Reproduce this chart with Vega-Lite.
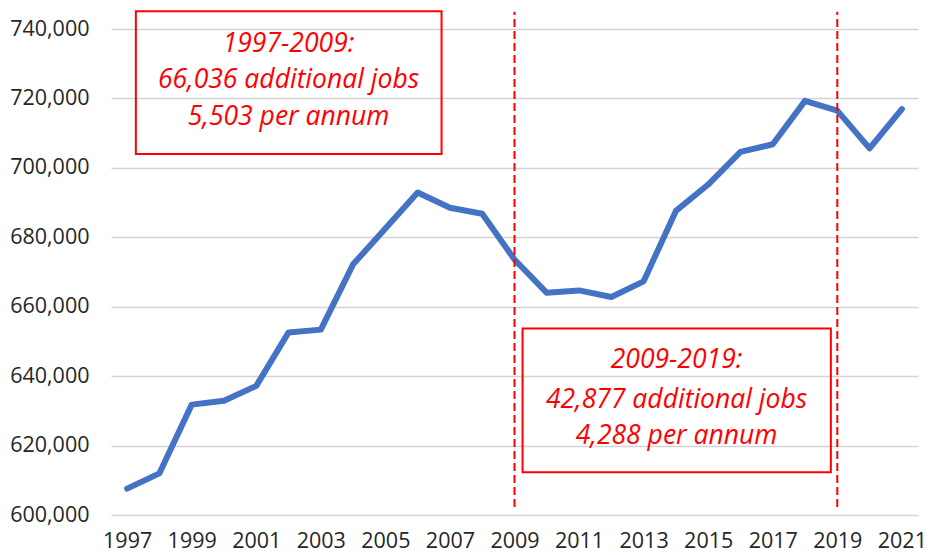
{
  "$schema": "https://vega.github.io/schema/vega-lite/v6.json",
  "width": 807,
  "height": 486,
  "autosize": {"type": "none"},
  "padding": {"left": 111, "top": 29, "right": 10, "bottom": 40},
  "background": "white",
  "config": {
    "view": {"stroke": null},
    "axis": {"labelFont": "Open Sans", "labelFontSize": 21.5, "labelColor": "#262626", "domain": false, "ticks": false, "title": null}
  },
  "datasets": {
    "jobs": [
      {"year": 1997, "jobs": 607600},
      {"year": 1998, "jobs": 612000},
      {"year": 1999, "jobs": 631800},
      {"year": 2000, "jobs": 632900},
      {"year": 2001, "jobs": 637200},
      {"year": 2002, "jobs": 652600},
      {"year": 2003, "jobs": 653400},
      {"year": 2004, "jobs": 672200},
      {"year": 2005, "jobs": 682500},
      {"year": 2006, "jobs": 692900},
      {"year": 2007, "jobs": 688500},
      {"year": 2008, "jobs": 686800},
      {"year": 2009, "jobs": 673600},
      {"year": 2010, "jobs": 664000},
      {"year": 2011, "jobs": 664700},
      {"year": 2012, "jobs": 662800},
      {"year": 2013, "jobs": 667300},
      {"year": 2014, "jobs": 687600},
      {"year": 2015, "jobs": 695200},
      {"year": 2016, "jobs": 704600},
      {"year": 2017, "jobs": 706800},
      {"year": 2018, "jobs": 719300},
      {"year": 2019, "jobs": 716477},
      {"year": 2020, "jobs": 705600},
      {"year": 2021, "jobs": 716900}
    ],
    "rules": [
      {"year": 2009, "y1": 602300, "y2": 745000},
      {"year": 2019, "y1": 602300, "y2": 745000}
    ],
    "boxes": [
      {"x1": 1997.27, "x2": 2006.74, "y1": 745080, "y2": 704000},
      {"x1": 2009.25, "x2": 2018.8, "y1": 653700, "y2": 612300}
    ],
    "labels": [
      {"x": 2002.0, "y": 735800, "text": "1997-2009:"},
      {"x": 2002.0, "y": 725220, "text": "66,036 additional jobs"},
      {"x": 2002.0, "y": 714630, "text": "5,503 per annum"},
      {"x": 2014.02, "y": 644530, "text": "2009-2019:"},
      {"x": 2014.02, "y": 633270, "text": "42,877 additional jobs"},
      {"x": 2014.02, "y": 622880, "text": "4,288 per annum"}
    ]
  },
  "layer": [
    {
      "data": {"name": "jobs"},
      "mark": {"type": "line", "color": "#4472C4", "strokeWidth": 6, "strokeCap": "round", "strokeJoin": "round"},
      "encoding": {
        "x": {"field": "year", "type": "quantitative",
              "scale": {"domain": [1996.5, 2021.5], "nice": false, "zero": false},
              "axis": {"values": [1997, 1999, 2001, 2003, 2005, 2007, 2009, 2011, 2013, 2015, 2017, 2019, 2021], "format": "d", "grid": false, "labelPadding": 15}},
        "y": {"field": "jobs", "type": "quantitative",
              "scale": {"domain": [600000, 740000], "nice": false, "zero": false},
              "axis": {"values": [600000, 620000, 640000, 660000, 680000, 700000, 720000, 740000], "format": ",d", "grid": true, "gridColor": "#d4d4d4", "gridWidth": 1.5, "labelPadding": 22}}
      }
    },
    {
      "data": {"name": "rules"},
      "mark": {"type": "rule", "color": "#FF0000", "strokeWidth": 2, "strokeDash": [8, 4]},
      "encoding": {
        "x": {"field": "year", "type": "quantitative", "scale": {"domain": [1996.5, 2021.5], "nice": false, "zero": false}},
        "y": {"field": "y1", "type": "quantitative", "scale": {"domain": [600000, 740000], "nice": false, "zero": false}},
        "y2": {"field": "y2"}
      }
    },
    {
      "data": {"name": "boxes"},
      "mark": {"type": "rect", "fill": null, "fillOpacity": 0, "stroke": "#FF0000", "strokeWidth": 2},
      "encoding": {
        "x": {"field": "x1", "type": "quantitative", "scale": {"domain": [1996.5, 2021.5], "nice": false, "zero": false}},
        "x2": {"field": "x2"},
        "y": {"field": "y1", "type": "quantitative", "scale": {"domain": [600000, 740000], "nice": false, "zero": false}},
        "y2": {"field": "y2"}
      }
    },
    {
      "data": {"name": "labels"},
      "mark": {"type": "text", "font": "Open Sans", "fontStyle": "italic", "fontSize": 26.5, "color": "#FF0000", "align": "center", "baseline": "middle"},
      "encoding": {
        "x": {"field": "x", "type": "quantitative", "scale": {"domain": [1996.5, 2021.5], "nice": false, "zero": false}},
        "y": {"field": "y", "type": "quantitative", "scale": {"domain": [600000, 740000], "nice": false, "zero": false}},
        "text": {"field": "text"}
      }
    }
  ]
}
